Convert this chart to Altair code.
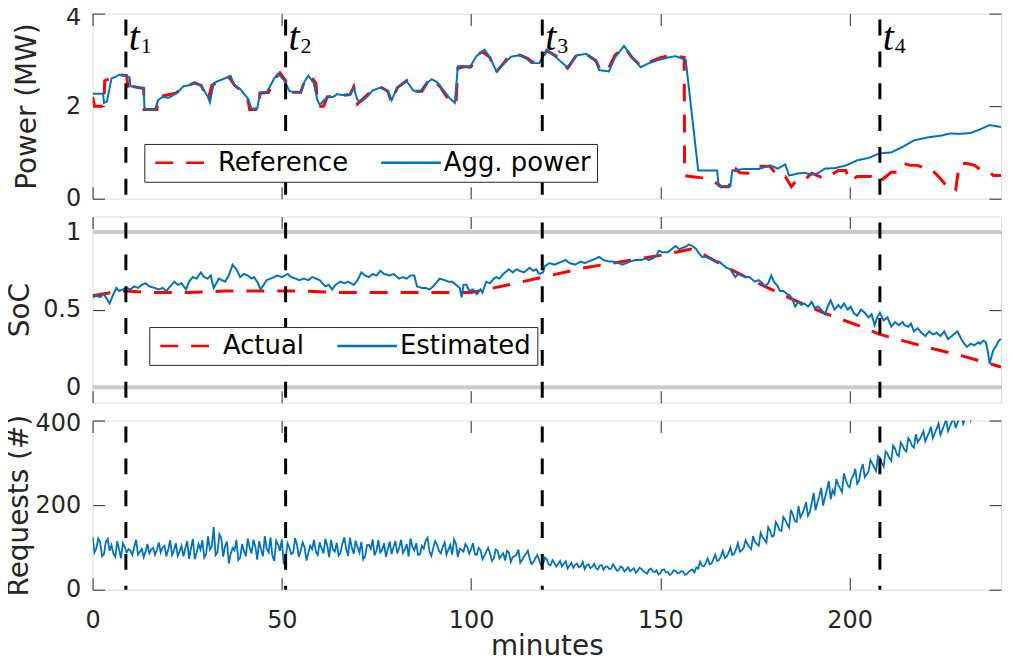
import altair as alt
import pandas as pd

# ------------------------------------------------------------------ data
x_ticks = [0, 50, 100, 150, 200]
power_ticks = [0, 2, 4]
soc_ticks = [0, 0.5, 1]
req_ticks = [0, 200, 400]

event_min = [8.8, 51.0, 118.8, 208.0]
event_sub = ["1", "2", "3", "4"]
soc_bounds = [0, 1]

power_series = ["Reference", "Agg. power"]
soc_series = ["Actual", "Estimated"]

power_ref_min = [0, 0.5, 3, 3.2, 7, 9, 9.5, 10.5, 11, 13.5, 13.6, 17, 17.2, 22, 24, 27, 28.7, 30.5,
                 31.5, 36, 37.5, 39, 41, 41.5, 44, 44.2, 46.5, 48, 49.5, 51, 52, 55, 56, 57.5, 59,
                 59.5, 61, 62, 68, 69, 70, 72, 74, 76, 78, 79, 80.5, 83, 85, 87, 88.5, 90, 92, 94,
                 96, 96.5, 98, 100, 101.5, 103, 105, 106.5, 108.5, 110.5, 113, 115, 116, 118, 120,
                 122.5, 125.5, 128, 130, 133, 134, 136, 138, 140.5, 142.5, 145, 147, 150, 153, 156.3,
                 156.4, 159, 161, 163.5, 165.5, 166, 168, 170, 171, 174, 176, 179, 181, 183, 184.6,
                 186, 188, 190, 193.5, 197, 199, 200, 202, 205.6, 207.5, 211, 213, 214.5, 216, 218,
                 220, 221.5, 224, 226.6, 228, 229, 231, 233, 235.5, 237, 238, 240]
power_ref_val = [2.2, 2.0, 2.0, 2.55, 2.68, 2.66, 2.3, 2.3, 2.42, 2.38, 1.93, 1.93, 2.2, 2.28, 2.42,
                 2.5, 2.45, 2.12, 2.45, 2.63, 2.45, 2.35, 2.15, 1.93, 1.93, 2.28, 2.3, 2.58, 2.72,
                 2.55, 2.3, 2.3, 2.55, 2.65, 2.5, 2.0, 2.0, 2.2, 2.25, 2.42, 2.05, 2.2, 2.35, 2.42,
                 2.32, 2.08, 2.4, 2.55, 2.32, 2.32, 2.52, 2.6, 2.4, 2.15, 2.05, 2.82, 2.85, 2.85,
                 3.1, 3.18, 3.05, 2.72, 2.92, 3.12, 3.1, 3.03, 2.96, 2.95, 3.2, 3.08, 2.82, 3.12,
                 3.15, 2.98, 2.8, 2.76, 3.1, 3.28, 3.05, 2.86, 2.95, 3.05, 3.1, 3.05, 0.5, 0.47,
                 0.45, 0.4, 0.3, 0.26, 0.26, 0.64, 0.56, 0.55, 0.7, 0.7, 0.48, 0.48, 0.26, 0.4,
                 0.4, 0.55, 0.43, 0.61, 0.61, 0.38, 0.48, 0.48, 0.34, 0.57, 0.57, 0.76, 0.72, 0.72,
                 0.65, 0.65, 0.43, 0.18, 0.18, 0.76, 0.76, 0.72, 0.57, 0.57, 0.5, 0.5]

power_agg_min = [0, 2.8, 3.0, 3.8, 5, 6, 7, 8.5, 9.8, 10, 11, 12.5, 13.5, 13.7, 14.5, 16.5, 17.3,
                 18.5, 20, 21, 22.5, 24, 25.5, 27, 28.7, 30.5, 31, 32, 34, 36.5, 37.4, 39, 41, 42,
                 43.5, 44, 44.5, 46, 48, 49, 50.5, 52, 53, 55, 56, 57, 58.4, 59.4, 60, 62, 63.6,
                 64.6, 66, 68, 69, 70, 71, 72.5, 74, 76, 78, 79, 80.4, 83, 84.7, 86.5, 88, 89.6,
                 91, 92.6, 94.4, 95.7, 96.5, 97.8, 99.6, 101.4, 103.6, 105, 106.7, 108.4, 110.6,
                 112.8, 114.6, 116, 118, 120, 122.5, 125.4, 128, 130.4, 133, 133.8, 136.4, 138,
                 140.4, 142.5, 144.8, 147, 149.6, 152, 154, 156.7, 160, 165, 165.4, 168.5, 169,
                 172, 176, 179, 181, 183, 184, 186, 188, 190, 191.6, 193.5, 196, 198.7, 200, 202,
                 205, 208, 211, 214, 217, 221, 224, 226.6, 229, 232, 234.5, 237, 240]
power_agg_val = [2.27, 2.27, 2.07, 2.1, 2.6, 2.63, 2.68, 2.66, 2.62, 2.43, 2.42, 2.4, 2.4, 1.96,
                 1.93, 1.92, 2.13, 2.2, 2.18, 2.22, 2.3, 2.43, 2.45, 2.52, 2.43, 2.2, 2.08, 2.5,
                 2.57, 2.65, 2.46, 2.37, 2.17, 1.95, 1.95, 2.17, 2.3, 2.3, 2.6, 2.7, 2.57, 2.33,
                 2.3, 2.3, 2.53, 2.66, 2.5, 2.13, 2.03, 2.2, 2.2, 2.26, 2.24, 2.24, 2.39, 2.13, 2.1,
                 2.2, 2.34, 2.4, 2.33, 2.13, 2.39, 2.54, 2.34, 2.31, 2.48, 2.58, 2.52, 2.35, 2.17,
                 2.07, 2.86, 2.87, 2.83, 3.08, 3.22, 3.05, 2.75, 2.9, 3.07, 3.1, 3.03, 2.93, 2.93,
                 3.22, 3.05, 2.84, 3.1, 3.13, 2.96, 2.78, 2.75, 3.05, 3.3, 3.07, 2.84, 2.93, 3.0,
                 3.05, 3.08, 3.0, 0.61, 0.61, 0.27, 0.27, 0.61, 0.64, 0.64, 0.72, 0.65, 0.74, 0.5,
                 0.54, 0.56, 0.52, 0.55, 0.65, 0.66, 0.71, 0.75, 0.83, 0.88, 0.98, 1.0, 1.12, 1.26,
                 1.33, 1.36, 1.41, 1.4, 1.42, 1.5, 1.59, 1.55]

soc_act_min = [0, 5, 9, 15, 25, 35, 45, 55, 65, 80, 100, 110, 119, 130, 140, 150, 156, 158, 161,
               167, 175, 184.6, 193, 202, 208, 214, 220, 230, 240]
soc_act_val = [0.59, 0.61, 0.62, 0.61, 0.61, 0.62, 0.62, 0.62, 0.61, 0.61, 0.61, 0.66, 0.71, 0.77,
               0.81, 0.85, 0.88, 0.89, 0.86, 0.78, 0.68, 0.57, 0.48, 0.40, 0.34, 0.30, 0.26, 0.20,
               0.13]

soc_est_min = [0, 1, 2, 3, 4, 4.5, 5.5, 6.3, 7, 8, 9, 10, 11, 12, 13, 14, 15, 16.4, 17.5, 18.5,
               19.5, 20.5, 21.6, 22.5, 23.5, 24.7, 25.5, 26.5, 27.5, 28.6, 29.5, 30.4, 31.2, 32,
               33.4, 34.2, 35, 36, 37, 38, 39, 40, 41, 42, 42.6, 43.5, 44.4, 45.2, 46, 47, 48,
               48.8, 50, 51.5, 52.5, 53.6, 54.6, 55.8, 57, 58, 59, 60, 61.5, 62.4, 63.3, 64.2,
               65.5, 66.5, 67.5, 69, 70, 71, 72, 73, 74, 75, 76, 77, 78.6, 79.5, 81, 82, 83, 84,
               85, 85.7, 87, 88, 89, 90, 91.7, 93, 94, 95, 96, 97, 97.5, 98, 98.8, 99.5, 100.5,
               101.5, 102.5, 103, 104, 105, 106, 106.7, 107.5, 108.5, 110, 111, 112, 112.8, 114,
               115.4, 116.5, 117.2, 118, 119, 119.5, 120.7, 122, 123, 124, 125, 126, 127.5, 129,
               130, 131, 132, 133, 133.8, 135, 136.4, 137.5, 139, 140, 141, 142, 143.5, 145, 146,
               147, 148, 149, 149.6, 150.5, 152, 153, 154, 155, 156, 157, 157.5, 158.5, 159.5,
               160, 161, 162, 163, 164.5, 165.5, 166.5, 167.5, 168.5, 169.8, 170.5, 171.5, 172.5,
               173.5, 175, 176, 177, 177.6, 178.5, 179.3, 180, 181, 181.6, 182.5, 183.5, 184.3,
               185, 185.6, 186.5, 187.2, 188, 189, 190, 190.8, 191.6, 192.5, 193.5, 194.2, 195,
               196, 197, 197.7, 198.5, 199.5, 200.3, 201, 202, 203, 204, 205, 205.8, 206.6,
               207.3, 208, 209, 210, 211, 212, 213, 214, 214.5, 215.5, 216.2, 217, 218, 219, 220,
               221, 222, 223, 224, 225, 226, 227, 228.5, 229.5, 230.3, 231, 232, 233, 234, 234.5,
               235.3, 236, 236.6, 237, 237.5, 238, 238.8, 239.4, 240]
soc_est_val = [0.58, 0.59, 0.58, 0.60, 0.56, 0.54, 0.60, 0.64, 0.62, 0.63, 0.64, 0.63, 0.65, 0.64,
               0.66, 0.67, 0.65, 0.64, 0.63, 0.64, 0.62, 0.65, 0.68, 0.66, 0.67, 0.63, 0.68, 0.71,
               0.70, 0.74, 0.71, 0.70, 0.72, 0.64, 0.70, 0.69, 0.68, 0.72, 0.79, 0.76, 0.71, 0.73,
               0.72, 0.70, 0.71, 0.68, 0.63, 0.66, 0.69, 0.70, 0.71, 0.72, 0.71, 0.73, 0.71, 0.70,
               0.69, 0.70, 0.69, 0.71, 0.70, 0.69, 0.65, 0.66, 0.63, 0.66, 0.68, 0.67, 0.68, 0.66,
               0.69, 0.74, 0.72, 0.71, 0.73, 0.72, 0.75, 0.73, 0.72, 0.73, 0.70, 0.71, 0.70, 0.72,
               0.72, 0.65, 0.64, 0.64, 0.63, 0.65, 0.70, 0.69, 0.68, 0.68, 0.66, 0.64, 0.58, 0.66,
               0.66, 0.62, 0.63, 0.60, 0.63, 0.61, 0.68, 0.67, 0.70, 0.71, 0.70, 0.73, 0.76, 0.74,
               0.76, 0.75, 0.74, 0.77, 0.75, 0.76, 0.73, 0.74, 0.78, 0.80, 0.79, 0.80, 0.81, 0.82,
               0.80, 0.79, 0.81, 0.80, 0.81, 0.82, 0.83, 0.84, 0.82, 0.81, 0.81, 0.80, 0.79, 0.80,
               0.81, 0.82, 0.82, 0.83, 0.82, 0.83, 0.85, 0.88, 0.87, 0.87, 0.89, 0.91, 0.89, 0.90,
               0.91, 0.92, 0.91, 0.89, 0.87, 0.84, 0.84, 0.83, 0.81, 0.81, 0.79, 0.77, 0.76, 0.71,
               0.73, 0.72, 0.71, 0.71, 0.68, 0.69, 0.67, 0.65, 0.67, 0.72, 0.68, 0.65, 0.62, 0.62,
               0.60, 0.59, 0.56, 0.52, 0.55, 0.53, 0.54, 0.52, 0.55, 0.51, 0.52, 0.50, 0.47, 0.52,
               0.56, 0.50, 0.53, 0.51, 0.54, 0.50, 0.52, 0.48, 0.46, 0.50, 0.48, 0.45, 0.47, 0.40,
               0.45, 0.48, 0.43, 0.45, 0.39, 0.42, 0.40, 0.42, 0.40, 0.39, 0.41, 0.36, 0.38, 0.35,
               0.33, 0.36, 0.34, 0.35, 0.33, 0.36, 0.31, 0.33, 0.36, 0.31, 0.28, 0.26, 0.28, 0.27,
               0.29, 0.28, 0.30, 0.29, 0.22, 0.15, 0.20, 0.24, 0.27, 0.30, 0.31]

# requests, sampled on whole minutes ...
req_min = list(range(0, 241))
req_val = [125, 98, 112, 84, 120, 105, 78, 96, 110, 88, 92, 101, 83, 97, 90, 86, 99, 94, 88, 104,
           96, 82, 110, 91, 79, 115, 98, 72, 108, 117, 84, 95, 148, 89, 122, 103, 62, 99, 118, 76,
           92, 121, 86, 102, 115, 79, 97, 124, 68, 107, 119, 74, 99, 88, 106, 93, 101, 87, 96, 90,
           112, 86, 104, 118, 90, 81, 109, 97, 123, 85, 100, 113, 79, 106, 119, 92, 88, 110, 96, 84,
           115, 99, 87, 108, 121, 93, 82, 104, 116, 91, 99, 107, 86, 112, 95, 83, 109, 97, 90, 101,
           96, 84, 99, 72, 90, 86, 74, 92, 81, 69, 88, 77, 83, 64, 79, 92, 61, 75, 70, 60,
           72, 58, 64, 61, 55, 67, 57, 52, 62, 56, 49, 60, 54, 51, 57, 47, 55, 50, 53, 46,
           52, 48, 44, 51, 45, 49, 41, 47, 43, 46, 39, 48, 42, 38, 45, 40, 43, 37, 46, 41,
           50, 57, 63, 60, 72, 68, 79, 75, 87, 82, 96, 90, 99, 108, 96, 113, 104, 124, 111, 140,
           128, 152, 139, 165, 147, 178, 160, 171, 192, 175, 205, 188, 221, 199, 236, 214, 226, 248, 231, 259,
           242, 270, 251, 284, 266, 279, 298, 281, 312, 291, 322, 305, 334, 316, 341, 327, 352, 336, 349, 364,
           351, 372, 358, 381, 366, 390, 375, 397, 382, 404, 392, 415, 401, 424, 410, 431, 418, 440, 426, 445,
           433]
# ... and on the half minutes in between
req_min_half = [m + 0.5 for m in range(0, 240)]
req_val_half = [88, 121, 79, 113, 92, 86, 115, 74, 101, 96, 82, 118, 90, 77, 108, 95, 83, 112, 100, 79,
                117, 93, 80, 104, 98, 73, 120, 88, 95, 76, 126, 103, 82, 131, 78, 114, 85, 93, 70, 108,
                79, 99, 118, 71, 96, 127, 88, 80, 116, 92, 60, 110, 84, 122, 78, 112, 69, 104, 118, 82,
                98, 120, 77, 95, 111, 87, 124, 80, 99, 116, 88, 72, 105, 97, 81, 117, 94, 78, 114, 101,
                86, 118, 95, 79, 102, 110, 84, 97, 123, 80, 115, 92, 101, 83, 106, 119, 77, 94, 108, 85,
                110, 82, 93, 80, 99, 68, 95, 74, 86, 92, 66, 80, 95, 70, 85, 73, 66, 82, 58, 76,
                60, 70, 55, 68, 62, 50, 64, 59, 53, 66, 57, 51, 61, 48, 58, 54, 49, 60, 45, 55,
                43, 53, 47, 40, 52, 44, 38, 50, 42, 36, 47, 41, 35, 46, 39, 44, 35, 42, 48, 53,
                66, 55, 74, 62, 83, 70, 92, 78, 100, 85, 110, 93, 117, 101, 127, 108, 135, 118, 148, 126,
                160, 141, 172, 155, 189, 163, 198, 180, 207, 184, 229, 206, 241, 219, 257, 235, 262, 240, 275, 247,
                263, 286, 258, 297, 273, 307, 289, 316, 300, 327, 311, 341, 320, 348, 331, 359, 340, 368, 356, 375,
                362, 385, 370, 393, 378, 402, 386, 408, 395, 416, 405, 423, 413, 432, 421, 440, 428, 446, 435, 451]

# ------------------------------------------------------------------ frames
df_pref = pd.DataFrame({"minute": power_ref_min, "value": power_ref_val, "series": power_series[0]})
df_pagg = pd.DataFrame({"minute": power_agg_min, "value": power_agg_val, "series": power_series[1]})
df_sact = pd.DataFrame({"minute": soc_act_min, "value": soc_act_val, "series": soc_series[0]})
df_sest = pd.DataFrame({"minute": soc_est_min, "value": soc_est_val, "series": soc_series[1]})
df_req = pd.concat([pd.DataFrame({"minute": req_min, "value": req_val}),
                    pd.DataFrame({"minute": req_min_half, "value": req_val_half})]
                   ).sort_values("minute").reset_index(drop=True)
df_ev = pd.DataFrame({"minute": event_min, "sub": event_sub, "t": ["t"] * len(event_min)})
df_bounds = pd.DataFrame({"value": soc_bounds})

# ------------------------------------------------------------------ style
FONT = "DejaVu Sans"
AX = "#262626"
W = 913
TICK = 12
BLUE = "#0072BD"
RED = "#FF0000"
xscale = alt.Scale(domain=[0, 240], nice=False, zero=False)


def bottom_axis(show):
    kw = dict(orient="bottom", values=x_ticks, tickSize=TICK, offset=-TICK, domain=False, grid=False,
              labels=show, tickColor=AX, tickWidth=1, labelColor=AX, labelFontSize=24,
              labelFont=FONT, labelPadding=19, labelFlush=False)
    if show:
        kw.update(title="minutes", titleFontSize=28, titleFontWeight="normal", titleColor=AX,
                  titleFont=FONT, titlePadding=0)
    else:
        kw.update(title=None)
    return alt.Axis(**kw)


def top_axis():
    return alt.Axis(orient="top", values=x_ticks, tickSize=TICK, offset=-TICK, domain=False,
                    grid=False, labels=False, title=None, tickColor=AX, tickWidth=1)


def left_axis(title, values, fmt, tpad, top_val, top_shift):
    return alt.Axis(orient="left", values=values, format=fmt, tickSize=TICK, offset=-TICK,
                    domain=False, grid=False, tickColor=AX, tickWidth=1, labelColor=AX,
                    labelFontSize=24, labelFont=FONT, labelPadding=12, labelFlush=False,
                    labelOffset={"condition": {"test": f"datum.value >= {top_val}",
                                               "value": top_shift}, "value": 0},
                    title=title, titleFontSize=28, titleFontWeight="normal", titleColor=AX,
                    titleFont=FONT, titlePadding=tpad, minExtent=60, maxExtent=60)


def right_axis(values):
    return alt.Axis(orient="right", values=values, tickSize=TICK, offset=-TICK, domain=False,
                    grid=False, labels=False, title=None, tickColor=AX, tickWidth=1)


def legend(x, y):
    return alt.Legend(title=None, orient="none", legendX=x, legendY=y, direction="horizontal",
                      symbolType="M-5,0L5,0", symbolSize=144, symbolOffset=22,
                      symbolStrokeWidth=2.5, labelOffset=20, labelFontSize=26, labelFont=FONT,
                      labelColor="black", padding=6, strokeColor=AX, fillColor="white",
                      columnPadding=28, cornerRadius=0)


def event_layers(with_labels):
    rules = alt.Chart(df_ev).mark_rule(color="black", strokeWidth=3, strokeDash=[16, 16],
                                       strokeDashOffset=26).encode(
        x=alt.X("minute:Q", scale=xscale, axis=None))
    layers = [rules]
    if with_labels:
        t = alt.Chart(df_ev).mark_text(font="Liberation Serif", fontStyle="italic", fontSize=40,
                                       align="left", baseline="alphabetic", dx=3,
                                       color="black").encode(
            x=alt.X("minute:Q", scale=xscale, axis=None), y=alt.value(37), text="t:N")
        s = alt.Chart(df_ev).mark_text(font="Liberation Serif", fontSize=22, align="left",
                                       baseline="alphabetic", dx=15, color="black").encode(
            x=alt.X("minute:Q", scale=xscale, axis=None), y=alt.value(40), text="sub:N")
        layers += [t, s]
    return layers


def two_lines(df_a, df_b, names, yscale, y_axis_main, yvals, show_x, leg):
    col = alt.Color("series:N", scale=alt.Scale(domain=names, range=[RED, BLUE]), legend=leg)
    dash = alt.StrokeDash("series:N", scale=alt.Scale(domain=names, range=[[18, 13], [1, 0]]),
                          legend=leg)
    a = alt.Chart(df_a).mark_line(strokeWidth=3, clip=True).encode(
        x=alt.X("minute:Q", scale=xscale, axis=bottom_axis(show_x)),
        y=alt.Y("value:Q", scale=yscale, axis=y_axis_main),
        color=col, strokeDash=dash)
    b = alt.Chart(df_b).mark_line(strokeWidth=2, clip=True).encode(
        x=alt.X("minute:Q", scale=xscale, axis=None),
        y=alt.Y("value:Q", scale=yscale, axis=None),
        color=col, strokeDash=dash)
    helper = alt.Chart(df_b).mark_line(opacity=0, clip=True).encode(
        x=alt.X("minute:Q", scale=xscale, axis=top_axis()),
        y=alt.Y("value:Q", scale=yscale, axis=right_axis(yvals)))
    return a, b, helper


# ------------------------------------------------------------------ panel 1
ys1 = alt.Scale(domain=[0, 4], nice=False, zero=False)
a1, b1, h1 = two_lines(df_pref, df_pagg, power_series, ys1,
                       left_axis("Power (MW)", power_ticks, "d", 3, 4, 4), power_ticks, False,
                       legend(52, 131))
p1 = alt.layer(a1, b1, *event_layers(True), h1).resolve_axis(
    x="independent", y="independent").properties(width=W, height=186)

# ------------------------------------------------------------------ panel 2
ys2 = alt.Scale(domain=[-0.1, 1.1], nice=False, zero=False)
grey = alt.Chart(df_bounds).mark_rule(color="#cccccc", strokeWidth=4).encode(
    y=alt.Y("value:Q", scale=ys2, axis=None))
a2, b2, h2 = two_lines(df_sact, df_sest, soc_series, ys2,
                       left_axis("SoC", soc_ticks, "", 10, 2, 0), soc_ticks, False,
                       legend(57, 111))
p2 = alt.layer(grey, a2, b2, *event_layers(False), h2).resolve_axis(
    x="independent", y="independent").properties(width=W, height=187)

# ------------------------------------------------------------------ panel 3
ys3 = alt.Scale(domain=[0, 400], nice=False, zero=False)
r3 = alt.Chart(df_req).mark_line(strokeWidth=1.8, color=BLUE, clip=True).encode(
    x=alt.X("minute:Q", scale=xscale, axis=bottom_axis(True)),
    y=alt.Y("value:Q", scale=ys3,
            axis=left_axis("Requests (#)", req_ticks, "d", 11, 400, 3)))
h3 = alt.Chart(df_req).mark_line(opacity=0, clip=True).encode(
    x=alt.X("minute:Q", scale=xscale, axis=top_axis()),
    y=alt.Y("value:Q", scale=ys3, axis=right_axis(req_ticks)))
p3 = alt.layer(r3, *event_layers(False), h3).resolve_axis(
    x="independent", y="independent").properties(width=W, height=170)

chart = alt.vconcat(p1, p2, p3, spacing=18, bounds="flush").resolve_scale(
    color="independent", strokeDash="independent").resolve_legend(
    color="independent", strokeDash="independent").properties(
    padding={"left": -3, "top": -5, "right": 0, "bottom": 0}).configure_view(
    stroke=AX, strokeWidth=1).configure(font=FONT)

chart.save("out.html", embed_options={"renderer": "svg", "actions": False})
